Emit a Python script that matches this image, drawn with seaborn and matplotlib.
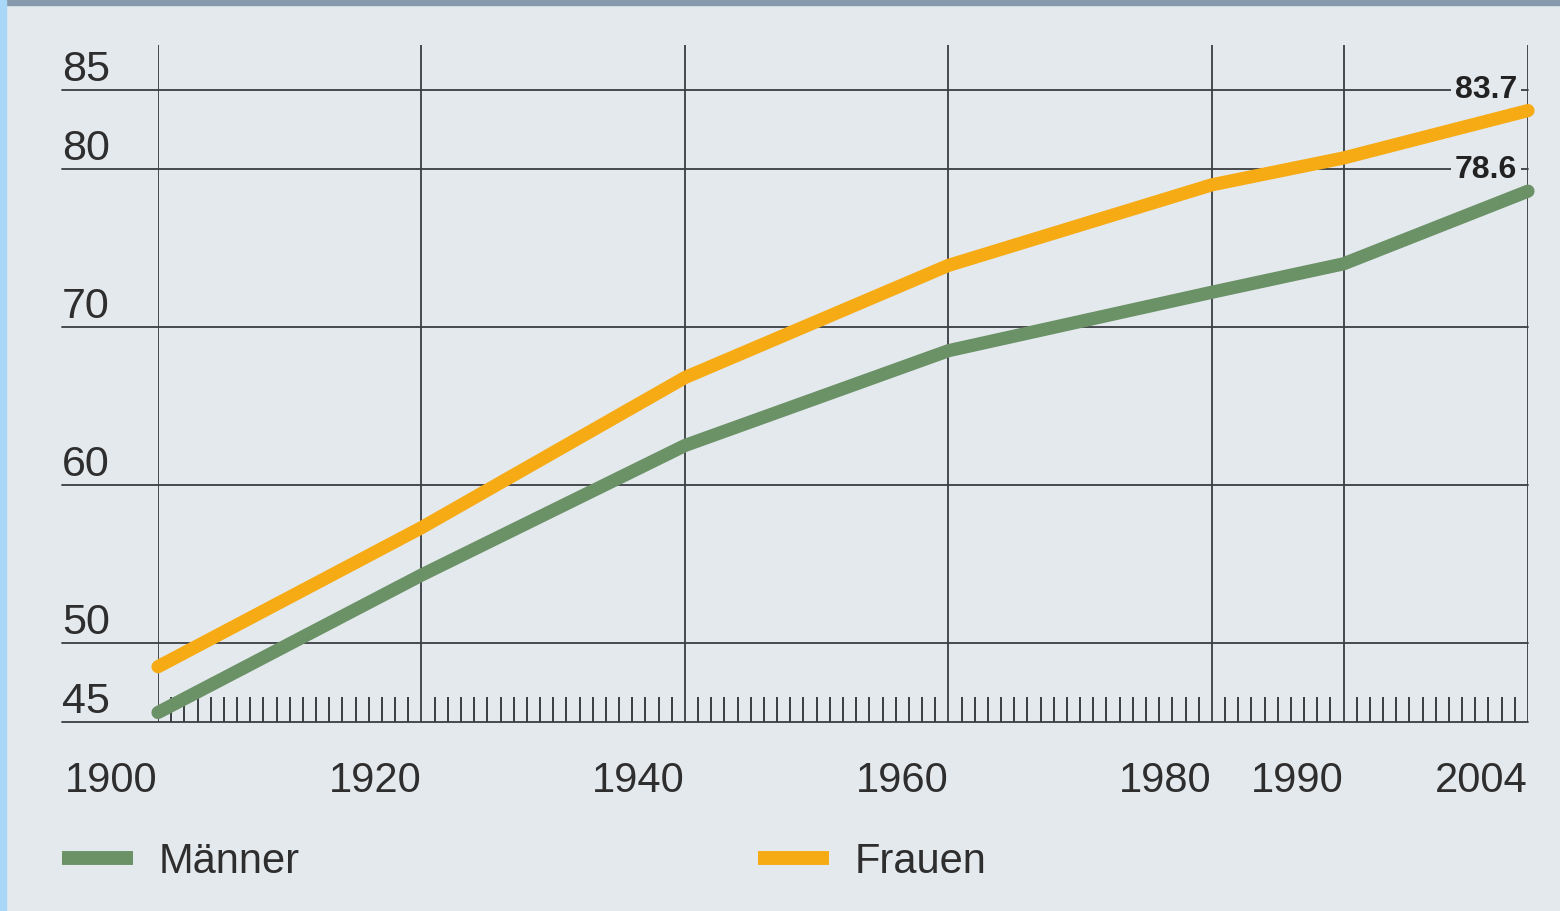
import matplotlib
matplotlib.use("Agg")
import matplotlib.pyplot as plt
from matplotlib.lines import Line2D
from matplotlib.patches import Rectangle
import seaborn as sns
import pandas as pd

# Lebenserwartung bei Geburt
jahre = [1900, 1920, 1940, 1960, 1980, 1990, 2004]
maenner = [45.6, 54.3, 62.5, 68.5, 72.2, 74.0, 78.6]
frauen = [48.5, 57.3, 66.8, 73.9, 79.0, 80.7, 83.7]
y_ticks = [45, 50, 60, 70, 80, 85]
x_ticks = [1900, 1920, 1940, 1960, 1980, 1990, 2004]
serien = ["Männer", "Frauen"]

BG = "#e4e9ee"
GRID = "#3a3d42"
TXT = "#2e2e2e"
farben = {"Männer": "#6b9166", "Frauen": "#f6ab14"}

df = pd.DataFrame({
    "Jahr": jahre * 2,
    "Lebenserwartung": maenner + frauen,
    "Geschlecht": ["Männer"] * len(jahre) + ["Frauen"] * len(jahre),
})

sns.set_theme(style="white")
plt.rcParams["font.family"] = ["Liberation Sans", "DejaVu Sans"]

fig = plt.figure(figsize=(15.6, 9.11), dpi=100, facecolor=BG)
ax = fig.add_axes([158 / 1560, 189 / 911, 1370 / 1560, 677 / 911])
ax.set_facecolor(BG)

# frame strips of the original graphic
fig.patches.append(Rectangle((0, 1 - 5 / 911), 1, 5 / 911, transform=fig.transFigure,
                             color="#8799ac", zorder=0))
fig.patches.append(Rectangle((0, 0), 6 / 1560, 1, transform=fig.transFigure,
                             color="#a9d7f7", zorder=0))

sns.lineplot(data=df, x="Jahr", y="Lebenserwartung", hue="Geschlecht",
             hue_order=serien, palette=farben, linewidth=9.5,
             solid_capstyle="round", legend=False, ax=ax, zorder=3)
for ln in ax.get_lines():
    ln.set_clip_on(False)

ax.set_xlim(1900, 2004)
ax.set_ylim(45, 87.85)
for s in ax.spines.values():
    s.set_visible(False)

# grid
for y in y_ticks:
    ax.axhline(y, xmin=-96 / 1370, xmax=1, color=GRID, lw=1.3, clip_on=False, zorder=1)
for x in x_ticks:
    ax.axvline(x, color=GRID, lw=1.3, zorder=1)

# ticks
ax.set_xticks(x_ticks)
ax.set_xticklabels([str(x) for x in x_ticks], ha="right")
ax.set_xticks(range(1901, 2004), minor=True)
ax.tick_params(axis="x", which="major", length=0, pad=28, labelsize=30, labelcolor=TXT)
ax.tick_params(axis="x", which="minor", direction="in", length=18, width=1.4,
               color=GRID, bottom=True)
ax.set_yticks(y_ticks)
ax.set_yticklabels([str(y) for y in y_ticks], ha="left", va="bottom")
ax.tick_params(axis="y", length=0, pad=69, labelsize=31, labelcolor=TXT)
ax.set_xlabel("")
ax.set_ylabel("")

# end values
for werte, dy in [(frauen, 15), (maenner, 15)]:
    ax.annotate(f"{werte[-1]:.1f}", xy=(jahre[-1], werte[-1]), xytext=(-8, dy),
                textcoords="offset points", ha="right", va="center",
                fontsize=23, fontweight="bold", color="#222222",
                family=["Liberation Sans Narrow", "Liberation Sans", "DejaVu Sans"],
                bbox=dict(boxstyle="square,pad=0.12", fc=BG, ec="none"), zorder=2)

handles = [Line2D([], [], color=farben[s], lw=10, solid_capstyle="butt") for s in serien]
fig.legend(handles, serien, loc="center left", bbox_to_anchor=(62 / 1560, 1 - 862 / 911),
           ncol=2, frameon=False, fontsize=30, handlelength=1.7, handletextpad=0.62,
           columnspacing=11.0, borderpad=0, borderaxespad=0, labelcolor=TXT)

fig.savefig("out.png", dpi=100, facecolor=BG)
